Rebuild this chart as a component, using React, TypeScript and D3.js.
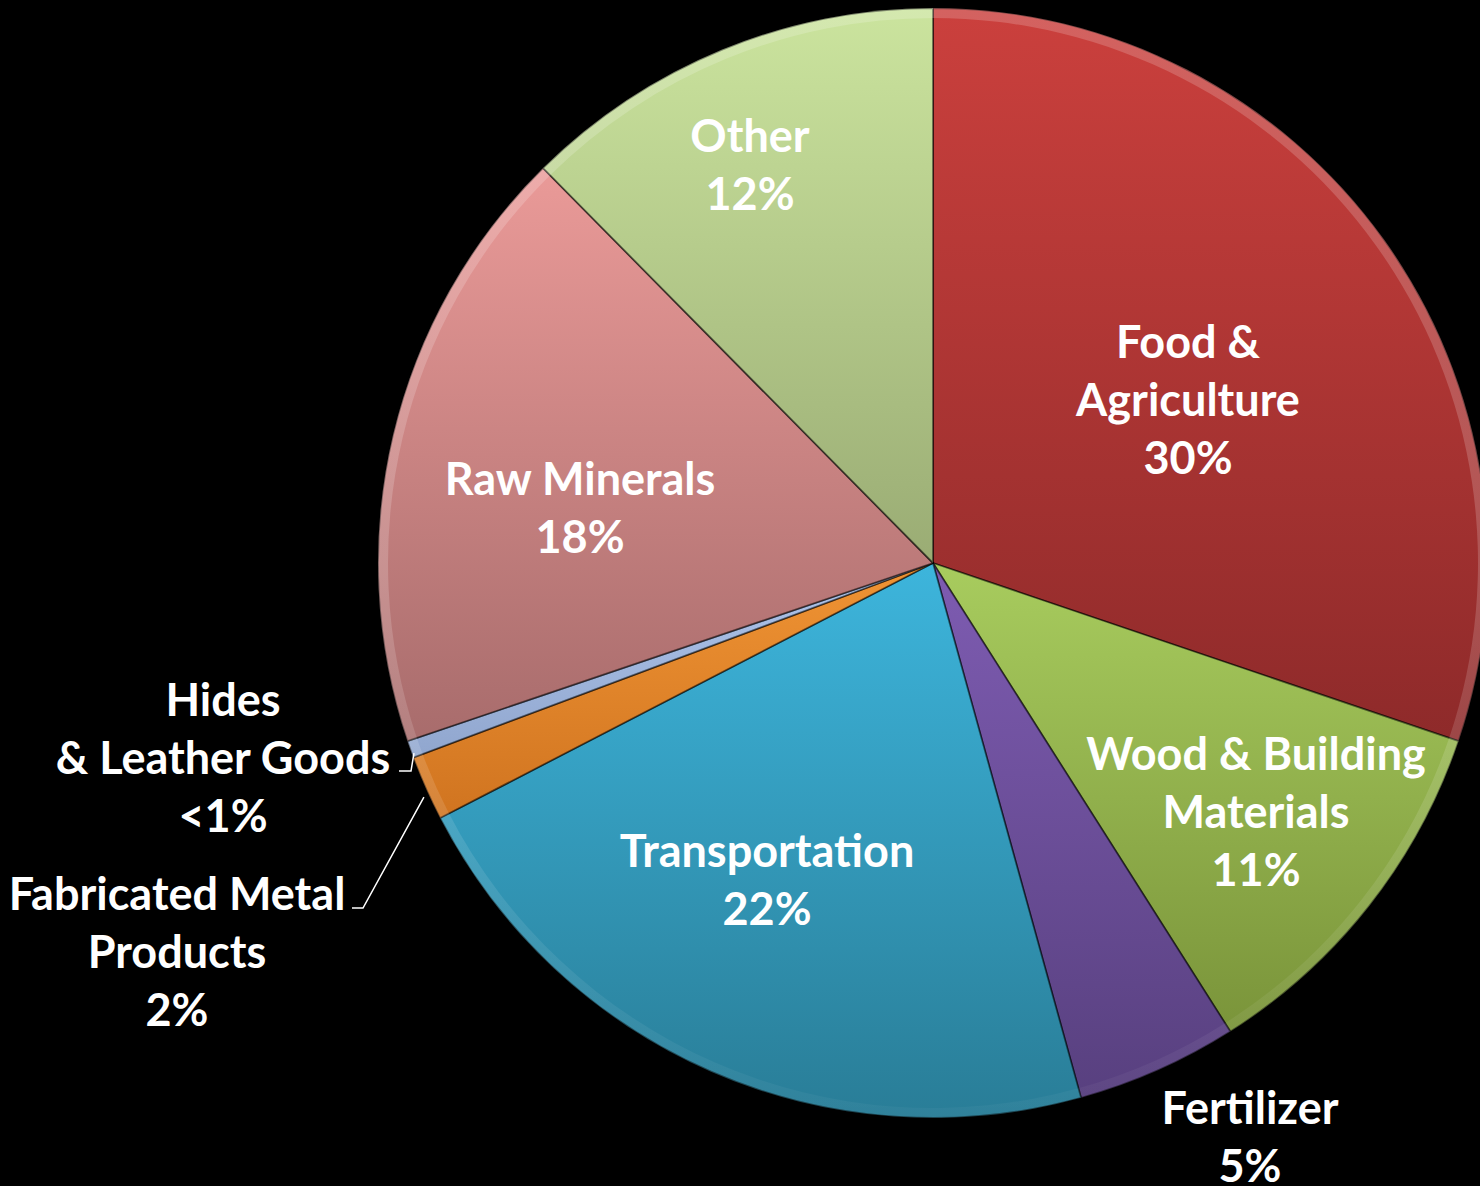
import React from 'react';
import * as d3 from 'd3';

// slices, clockwise from 12 o'clock
const categories = [
  'Food & Agriculture',
  'Wood & Building Materials',
  'Fertilizer',
  'Transportation',
  'Fabricated Metal Products',
  'Hides & Leather Goods',
  'Raw Minerals',
  'Other',
];
const shares = [30.2, 10.8, 4.7, 21.7, 1.9, 0.5, 17.8, 12.4];
const pctLabels = ['30%', '11%', '5%', '22%', '2%', '<1%', '18%', '12%'];
const labelLines = [
  ['Food &', 'Agriculture'],
  ['Wood & Building', 'Materials'],
  ['Fertilizer'],
  ['Transportation'],
  ['Fabricated Metal', 'Products'],
  ['Hides', '& Leather Goods'],
  ['Raw Minerals'],
  ['Other'],
];

// top / bottom colours of each slice's own shading
const topColors = ['#CB403D', '#A8CC5E', '#7E5CB2', '#3DB5DC', '#F09434', '#B0C6EC', '#EA9A98', '#CBE49E'];
const bottomColors = ['#8E2A2A', '#7A943A', '#58407F', '#297D97', '#D07420', '#90A6CE', '#A86C6C', '#9AAC74'];

const W = 1480;
const H = 1186;
const cx = 933;
const cy = 563;
const R = 555;

// label anchor (centre of first line), layout only
const labelPos: [number, number][] = [
  [1188, 358], [1256, 770], [1250, 1124], [767, 867],
  [177, 910], [223, 716], [580, 495], [750, 152],
];
const lineGap = 58;

const App = () => {
  const pie = d3.pie<number>().sort(null).value((d) => d);
  const arcs = pie(shares);
  const arc = d3.arc<d3.PieArcDatum<number>>().innerRadius(0).outerRadius(R);
  const rim = d3.arc<d3.PieArcDatum<number>>().innerRadius(R - 10).outerRadius(R);

  const edgePoint = (i: number, rr: number) => {
    const a = (arcs[i].startAngle + arcs[i].endAngle) / 2;
    return [cx + rr * Math.sin(a), cy - rr * Math.cos(a)];
  };

  const [hx, hy] = edgePoint(5, R - 4);
  const [fx, fy] = edgePoint(4, R + 2);
  const hidesLeader = `M${hx},${hy + 5} L${hx - 3},${hy + 23} L${hx - 15},${hy + 23}`;
  const fabLeader = `M${fx},${fy + 8} L${363},${908} L${352},${908}`;

  const font = "Lato, 'Open Sans', sans-serif";

  return (
    <svg
      width={W}
      height={H}
      style={{ position: 'absolute', left: 0, top: 0, background: '#000' }}
    >
      <defs>
        {categories.map((c, i) => (
          <linearGradient key={c} id={`g${i}`} x1={0} y1={0} x2={0} y2={1}>
            <stop offset="0%" stopColor={topColors[i]} />
            <stop offset="100%" stopColor={bottomColors[i]} />
          </linearGradient>
        ))}
        <linearGradient id="rim" gradientUnits="userSpaceOnUse" x1={0} y1={cy - R} x2={0} y2={cy + R}>
          <stop offset="0%" stopColor="#fff" stopOpacity={0.18} />
          <stop offset="50%" stopColor="#fff" stopOpacity={0.03} />
          <stop offset="100%" stopColor="#000" stopOpacity={0.2} />
        </linearGradient>
      </defs>
      <rect width={W} height={H} fill="#000" />
      <g transform={`translate(${cx},${cy})`}>
        {arcs.map((d, i) => (
          <path
            key={categories[i]}
            d={arc(d) || ''}
            fill={`url(#g${i})`}
            stroke="rgba(0,0,0,0.5)"
            strokeWidth={1.8}
            strokeLinejoin="round"
          />
        ))}
        {arcs.map((d, i) => (
          <path key={`r${i}`} d={rim(d) || ''} fill="url(#rim)" />
        ))}
      </g>
      <path d={hidesLeader} fill="none" stroke="#fff" strokeWidth={1.5} />
      <path d={fabLeader} fill="none" stroke="#fff" strokeWidth={1.5} />
      {categories.map((c, i) => {
        const lines = [...labelLines[i], pctLabels[i]];
        const [lx, ly] = labelPos[i];
        return (
          <text
            key={c}
            x={lx}
            y={ly}
            textAnchor="middle"
            fill="#fff"
            fontFamily={font}
            fontWeight={700}
            fontSize={45}
          >
            {lines.map((t, j) => (
              <tspan key={j} x={lx} y={ly + j * lineGap}>
                {t}
              </tspan>
            ))}
          </text>
        );
      })}
    </svg>
  );
};

export default App;
